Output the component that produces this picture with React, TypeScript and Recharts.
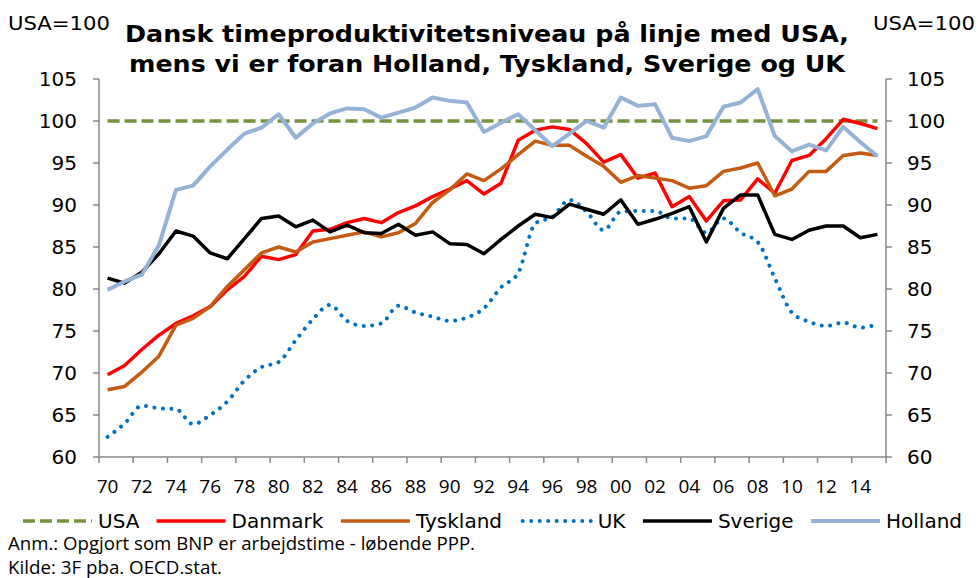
import React from 'react';
import { LineChart, Line, XAxis, YAxis } from 'recharts';

const years = [
  1970, 1971, 1972, 1973, 1974, 1975, 1976, 1977, 1978, 1979,
  1980, 1981, 1982, 1983, 1984, 1985, 1986, 1987, 1988, 1989,
  1990, 1991, 1992, 1993, 1994, 1995, 1996, 1997, 1998, 1999,
  2000, 2001, 2002, 2003, 2004, 2005, 2006, 2007, 2008, 2009,
  2010, 2011, 2012, 2013, 2014, 2015,
];

const usa = [
  100, 100, 100, 100, 100, 100, 100, 100, 100, 100,
  100, 100, 100, 100, 100, 100, 100, 100, 100, 100,
  100, 100, 100, 100, 100, 100, 100, 100, 100, 100,
  100, 100, 100, 100, 100, 100, 100, 100, 100, 100,
  100, 100, 100, 100, 100, 100,
];

const danmark = [
  69.8, 70.9, 72.8, 74.5, 75.9, 76.8, 77.9, 79.9, 81.5, 83.9,
  83.5, 84.1, 86.9, 87.1, 87.9, 88.4, 87.9, 89.1, 89.9, 91.0,
  91.9, 92.9, 91.3, 92.6, 97.7, 98.9, 99.3, 99.0, 97.3, 95.1,
  96.0, 93.2, 93.8, 89.8, 91.0, 88.1, 90.5, 90.6, 93.1, 91.4,
  95.3, 95.9, 97.9, 100.2, 99.7, 99.1,
];

const tyskland = [
  68.0, 68.4, 70.1, 72.0, 75.7, 76.5, 77.9, 80.3, 82.3, 84.3,
  85.0, 84.4, 85.6, 86.0, 86.4, 86.8, 86.2, 86.7, 87.8, 90.3,
  91.8, 93.7, 92.9, 94.3, 96.0, 97.6, 97.1, 97.1, 95.8, 94.6,
  92.7, 93.5, 93.2, 92.9, 92.0, 92.3, 94.0, 94.4, 95.0, 91.1,
  91.9, 94.0, 94.0, 95.9, 96.2, 95.9,
];

const uk = [
  62.4, 64.0, 66.1, 65.8, 65.7, 63.9, 65.0, 66.6, 69.1, 70.7,
  71.3, 73.9, 76.4, 78.1, 76.2, 75.6, 75.9, 78.0, 77.2, 76.7,
  76.2, 76.6, 77.7, 80.2, 81.9, 87.8, 88.6, 90.6, 89.2, 87.0,
  89.2, 89.3, 89.3, 88.4, 88.4, 86.7, 88.4, 86.7, 85.6, 81.3,
  77.2, 76.1, 75.6, 76.0, 75.4, 75.8,
];

const sverige = [
  81.3, 80.7, 82.0, 84.2, 86.9, 86.3, 84.3, 83.6, 86.0, 88.4,
  88.7, 87.4, 88.2, 86.8, 87.6, 86.7, 86.6, 87.7, 86.4, 86.8,
  85.4, 85.3, 84.2, 85.9, 87.5, 88.9, 88.5, 90.1, 89.5, 88.9,
  90.6, 87.7, 88.3, 89.0, 89.8, 85.6, 89.6, 91.2, 91.2, 86.5,
  85.9, 87.0, 87.5, 87.5, 86.1, 86.5,
];

const holland = [
  79.9, 80.9, 81.7, 85.2, 91.8, 92.3, 94.6, 96.6, 98.5, 99.2,
  100.8, 98.0, 99.7, 100.9, 101.5, 101.4, 100.4, 101.0, 101.6, 102.8,
  102.4, 102.2, 98.7, 99.8, 100.8, 98.9, 97.0, 98.5, 100.0, 99.2,
  102.8, 101.8, 102.0, 98.0, 97.6, 98.2, 101.7, 102.2, 103.8, 98.2,
  96.4, 97.2, 96.5, 99.3, 97.5, 95.8,
];

const yTicks = [60, 65, 70, 75, 80, 85, 90, 95, 100, 105];
const xTickLabels = [
  '70', '72', '74', '76', '78', '80', '82', '84', '86', '88', '90', '92',
  '94', '96', '98', '00', '02', '04', '06', '08', '10', '12', '14',
];
const xBoundaries = [
  1969.5, 1971.5, 1973.5, 1975.5, 1977.5, 1979.5, 1981.5, 1983.5, 1985.5,
  1987.5, 1989.5, 1991.5, 1993.5, 1995.5, 1997.5, 1999.5, 2001.5, 2003.5,
  2005.5, 2007.5, 2009.5, 2011.5, 2013.5, 2015.5,
];

const titleLines = [
  'Dansk timeproduktivitetsniveau på linje med USA,',
  'mens vi er foran Holland, Tyskland, Sverige og UK',
];
const unitLabel = 'USA=100';
const notes = [
  'Anm.: Opgjort som BNP er arbejdstime - løbende PPP.',
  'Kilde: 3F pba. OECD.stat.',
];

const seriesDefs = [
  { key: 'usa', name: 'USA', color: '#77933C', width: 3.5, dash: '12 5', cap: 'butt', smooth: false },
  { key: 'danmark', name: 'Danmark', color: '#FF0000', width: 3.5, dash: undefined, cap: 'butt', smooth: false },
  { key: 'tyskland', name: 'Tyskland', color: '#C55A11', width: 3.5, dash: undefined, cap: 'butt', smooth: false },
  { key: 'uk', name: 'UK', color: '#0070C0', width: 4, dash: '0.01 8.5', cap: 'round', smooth: true },
  { key: 'sverige', name: 'Sverige', color: '#000000', width: 3.5, dash: undefined, cap: 'butt', smooth: false },
  { key: 'holland', name: 'Holland', color: '#95B3D7', width: 4, dash: undefined, cap: 'butt', smooth: false },
];

const data = years.map((year, i) => ({
  year,
  usa: usa[i],
  danmark: danmark[i],
  tyskland: tyskland[i],
  uk: uk[i],
  sverige: sverige[i],
  holland: holland[i],
}));

const W = 978;
const H = 578;
const M = { top: 79, right: 32, bottom: 91, left: 39 };
const Y_W = 60;
const X_H = 30;
const PLOT_W = W - M.left - M.right - 2 * Y_W;
const HALF_CAT = PLOT_W / years.length / 2;
const AXIS_COLOR = '#898989';
const SANS = "'DejaVu Sans', Verdana, sans-serif";

function XTick(props: any) {
  const { x, y, index } = props;
  const label = xTickLabels[index];
  if (!label) return null;
  return (
    <text
      x={x + HALF_CAT}
      y={y + 30}
      textAnchor="middle"
      fontFamily="'Open Sans', sans-serif"
      fontSize={19}
      fill="#000"
    >
      {label}
    </text>
  );
}

const legendLayout = { x: 23, y: 521, sample: 69, gapSample: 6, gapText: 17.5, fontSize: 20 };
const titleWidths = [724, 716];
const noteWidths = [467, 214];

function approxWidth(s: string, fs: number) {
  // rough DejaVu Sans advance widths
  const w: Record<string, number> = {
    U: 0.732, S: 0.635, A: 0.684, D: 0.77, T: 0.611, K: 0.656, H: 0.752,
    a: 0.613, n: 0.634, m: 0.974, r: 0.411, k: 0.579, y: 0.592, s: 0.521,
    l: 0.278, d: 0.635, v: 0.592, e: 0.615, i: 0.278, g: 0.635, o: 0.612,
  };
  let t = 0;
  for (const c of s) t += w[c] ?? 0.6;
  return t * fs;
}

function Overlay() {
  let cx = legendLayout.x;
  const items = seriesDefs.map((s) => {
    const x0 = cx;
    const x1 = x0 + legendLayout.sample;
    const tx = x1 + legendLayout.gapSample;
    cx = tx + approxWidth(s.name, legendLayout.fontSize) + legendLayout.gapText;
    return (
      <g key={s.key}>
        <line
          x1={x0}
          x2={x1}
          y1={legendLayout.y}
          y2={legendLayout.y}
          stroke={s.color}
          strokeWidth={s.width}
          strokeDasharray={s.dash}
          strokeLinecap={s.cap as any}
        />
        <text x={tx} y={legendLayout.y + 7} fontFamily={SANS} fontSize={legendLayout.fontSize} fill="#000">
          {s.name}
        </text>
      </g>
    );
  });
  return (
    <svg
      width={W}
      height={H}
      style={{ position: 'absolute', left: 0, top: 0, pointerEvents: 'none' }}
    >
      <text x={8} y={30} fontFamily={SANS} fontSize={20} fill="#000" textLength={102} lengthAdjust="spacingAndGlyphs">{unitLabel}</text>
      <text x={873} y={30} fontFamily={SANS} fontSize={20} fill="#000" textLength={102} lengthAdjust="spacingAndGlyphs">{unitLabel}</text>
      {titleLines.map((t, i) => (
        <text
          key={i}
          x={487 - titleWidths[i] / 2}
          y={42 + i * 30}
          fontFamily={SANS}
          fontWeight="bold"
          fontSize={23}
          fill="#000"
          textLength={titleWidths[i]}
          lengthAdjust="spacingAndGlyphs"
        >
          {t}
        </text>
      ))}
      {items}
      {notes.map((n, i) => (
        <text
          key={i}
          x={8}
          y={550 + i * 24}
          fontFamily="'Open Sans', sans-serif"
          fontSize={17.5}
          fill="#000"
          textLength={noteWidths[i]}
          lengthAdjust="spacingAndGlyphs"
        >
          {n}
        </text>
      ))}
    </svg>
  );
}

export default function App() {
  return (
    <div style={{ position: 'absolute', left: 0, top: 0, width: W, height: H, background: '#fff' }}>
      <LineChart width={W} height={H} data={data} margin={M}>
        <XAxis
          dataKey="year"
          type="number"
          domain={[1969.5, 2015.5]}
          ticks={xBoundaries}
          interval={0}
          height={X_H}
          tickSize={6}
          tickMargin={0}
          axisLine={{ stroke: AXIS_COLOR, strokeWidth: 1.5 }}
          tickLine={{ stroke: AXIS_COLOR, strokeWidth: 1.5 }}
          tick={<XTick />}
          allowDataOverflow
        />
        <YAxis
          yAxisId="left"
          orientation="left"
          width={Y_W}
          domain={[60, 105]}
          ticks={yTicks}
          interval={0}
          tickSize={6}
          tickMargin={16}
          axisLine={{ stroke: AXIS_COLOR, strokeWidth: 1.5 }}
          tickLine={{ stroke: AXIS_COLOR, strokeWidth: 1.5 }}
          tick={{ fontFamily: SANS, fontSize: 20, fill: '#000' }}
          allowDataOverflow
        />
        <YAxis
          yAxisId="right"
          orientation="right"
          width={Y_W}
          domain={[60, 105]}
          ticks={yTicks}
          interval={0}
          tickSize={6}
          tickMargin={15}
          axisLine={{ stroke: AXIS_COLOR, strokeWidth: 1.5 }}
          tickLine={{ stroke: AXIS_COLOR, strokeWidth: 1.5 }}
          tick={{ fontFamily: SANS, fontSize: 20, fill: '#000', textAnchor: 'start' }}
          allowDataOverflow
        />
        {seriesDefs.map((s) => (
          <Line
            key={s.key}
            yAxisId={s.key === 'usa' ? 'right' : 'left'}
            dataKey={s.key}
            name={s.name}
            type={s.smooth ? 'monotone' : 'linear'}
            stroke={s.color}
            strokeWidth={s.width}
            strokeDasharray={s.dash}
            strokeLinecap={s.cap as any}
            strokeLinejoin="round"
            dot={false}
            activeDot={false}
            isAnimationActive={false}
          />
        ))}
      </LineChart>
      <Overlay />
    </div>
  );
}
